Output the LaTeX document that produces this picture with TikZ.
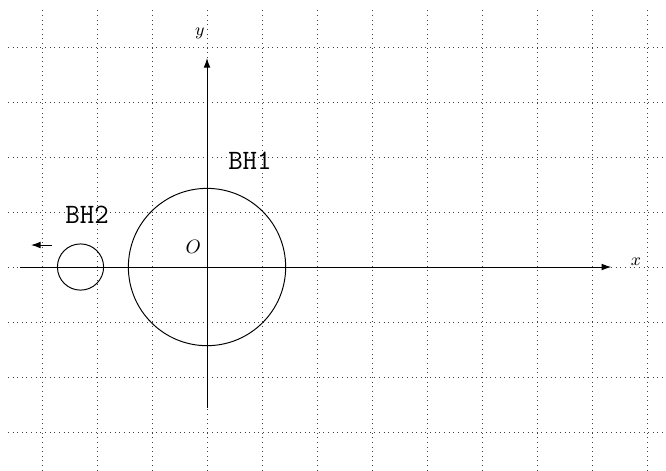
\documentclass[tikz,border=0pt]{standalone}
\usepackage{fontspec}
\usetikzlibrary{arrows.meta}
\tikzset{
  gridline/.style={black!75, dotted, line width=0.4pt},
  axisline/.style={-{Latex[length=5pt,width=3.5pt]}, line width=0.5pt},
  hole/.style={circle, draw, line width=0.5pt, inner sep=0pt},
  bhlabel/.style={font=\ttfamily\fontsize{14.5}{16}\selectfont},
  axlabel/.style={font=\small},
}

\begin{document}
\begin{tikzpicture}
  \useasboundingbox (-3.764,-3.691) rectangle (8.345,4.855);
  \draw[gridline] (-3.62,-3.7) grid (8.4,4.71);
  % axes
  \coordinate (xs) at (-3.4,0);
  \coordinate (xe) at (7.35,0);
  \coordinate (ys) at (0,-2.56);
  \coordinate (ye) at (0,3.8);
  \draw[axisline] (xs) -- (xe);
  \draw[axisline] (ys) -- (ye);
  \node[axlabel] (xl) at (7.8,0.1) {$x$};
  \node[axlabel] (yl) at (-0.13,4.25) {$y$};
  \node (o) at (-0.25,0.36) {$O$};
  % black holes
  \node[hole, minimum size=2.86cm] (bh1) at (0,0) {};
  \node[hole, minimum size=0.84cm] (bh2) at (-2.3,0) {};
  \node[bhlabel] (bh1l) at (0.78,1.93) {BH1};
  \node[bhlabel] (bh2l) at (-2.18,0.95) {BH2};
  \coordinate (va) at (-2.82,0.4);
  \coordinate (vb) at (-3.2,0.4);
  \draw[axisline] (va) -- (vb);
\end{tikzpicture}
\end{document}
